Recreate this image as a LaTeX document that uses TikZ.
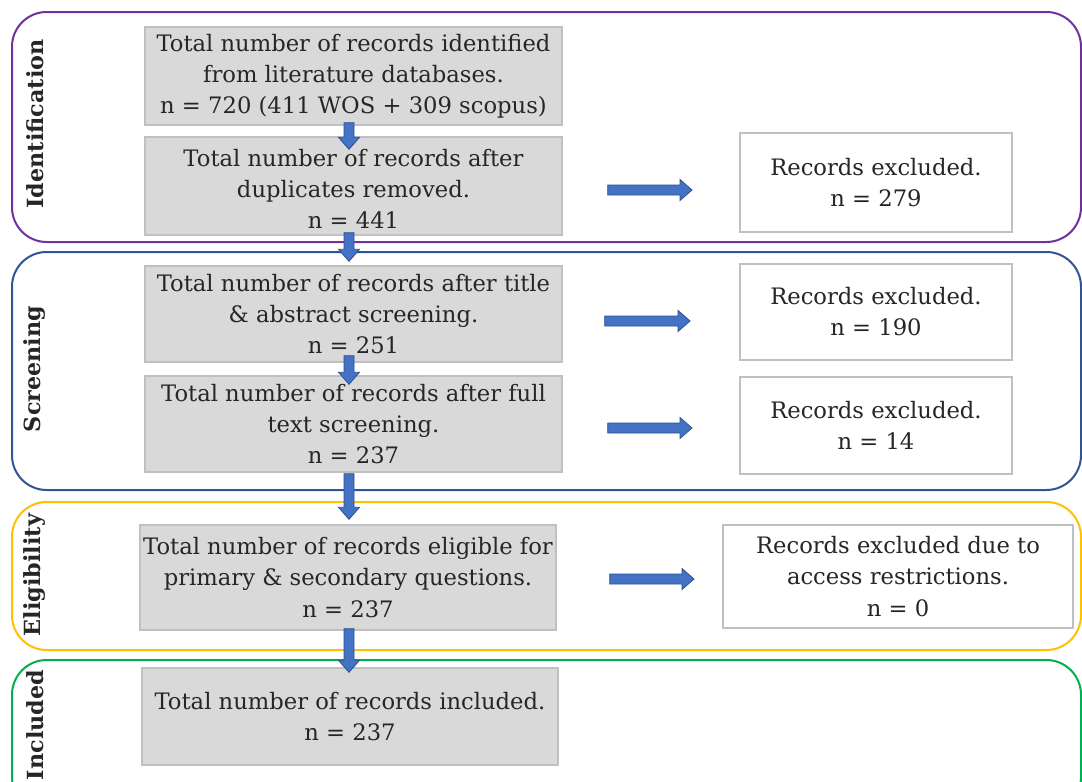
\documentclass[tikz,border=0pt]{standalone}
\usepackage{fontspec}
\setmainfont{DejaVu Serif}
\usetikzlibrary{calc}
\definecolor{gfill}{HTML}{D9D9D9}
\definecolor{gline}{HTML}{C0C0C0}
\definecolor{afill}{HTML}{4472C4}
\definecolor{aline}{HTML}{2F528F}
\definecolor{cpurple}{HTML}{7030A0}
\definecolor{cblue}{HTML}{2F5597}
\definecolor{cyellow}{HTML}{FFC000}
\definecolor{cgreen}{HTML}{00B050}
\begin{document}
\begin{tikzpicture}[x=0.75pt,y=-0.75pt,
  txt/.style={font=\fontsize{17}{23.3}\selectfont, align=center, inner sep=0pt, text=black!85},
  gbox/.style={txt, fill=gfill, draw=gline, line width=1pt},
  wbox/.style={txt, fill=white, draw=gline, line width=1.5pt},
  panel/.style={line width=1.5pt, rounded corners=26pt},
  stage/.style={font=\fontsize{16.7}{20}\selectfont\bfseries, rotate=90, inner sep=0pt, text=black!85},
  rarrow/.style={fill=afill, draw=aline, line width=0.6pt, line join=miter,
    to path={([shift={(0,-5)}]\tikztostart) -- ([shift={(-12,-5)}]\tikztotarget) -- ([shift={(-12,-10.5)}]\tikztotarget) -- (\tikztotarget) -- ([shift={(-12,10.5)}]\tikztotarget) -- ([shift={(-12,5)}]\tikztotarget) -- ([shift={(0,5)}]\tikztostart) -- cycle}},
  darrow/.style={fill=afill, draw=aline, line width=0.6pt, line join=miter,
    to path={([shift={(-5,0)}]\tikztostart) -- ([shift={(-5,-12)}]\tikztotarget) -- ([shift={(-10.5,-12)}]\tikztotarget) -- (\tikztotarget) -- ([shift={(10.5,-12)}]\tikztotarget) -- ([shift={(5,-12)}]\tikztotarget) -- ([shift={(5,0)}]\tikztostart) -- cycle}}
]
\useasboundingbox (0,0) rectangle (1082,782);
\fill[white] (0,0) rectangle (1082,782);

% panels
\draw[panel, draw=cpurple] (12,12) rectangle (1081,242);
\draw[panel, draw=cblue] (12,252) rectangle (1081,490);
\draw[panel, draw=cyellow] (12,502) rectangle (1081,650);
\draw[panel, draw=cgreen] (12,660) rectangle (1081,812);

\node[stage] (s1) at (35,124) {Identification};
\node[stage] (s2) at (35,369) {Screening};
\node[stage] (s3) at (35,575) {Eligibility};
\node[stage] (s4) at (35,725) {Included};

% main boxes
\node[gbox, minimum width=417*0.75pt, minimum height=98*0.75pt] (b1) at (353.5,76)
  {Total number of records identified\\ from literature databases.\\ n = 720 (411 WOS + 309 scopus)};
\node[gbox, minimum width=417*0.75pt, minimum height=98*0.75pt] (b2) at (353.5,186)
  {\\[-6pt]Total number of records after\\ duplicates removed.\\ n = 441};
\node[gbox, minimum width=417*0.75pt, minimum height=96*0.75pt] (b3) at (353.5,314)
  {Total number of records after title\\ \& abstract screening.\\ n = 251};
\node[gbox, minimum width=417*0.75pt, minimum height=96*0.75pt] (b4) at (353.5,424)
  {Total number of records after full\\ text screening.\\ n = 237};
\node[gbox, minimum width=416*0.75pt, minimum height=105*0.75pt] (b5) at (348,577.5)
  {Total number of records eligible for\\ primary \& secondary questions.\\ n = 237};
\node[gbox, minimum width=416*0.75pt, minimum height=97*0.75pt] (b6) at (350,716.5)
  {Total number of records included.\\ n = 237};

% exclusion boxes
\node[wbox, minimum width=272*0.75pt, minimum height=99*0.75pt] (x1) at (876,182.5)
  {Records excluded.\\ n = 279};
\node[wbox, minimum width=272*0.75pt, minimum height=96*0.75pt] (x2) at (876,312)
  {Records excluded.\\ n = 190};
\node[wbox, minimum width=272*0.75pt, minimum height=97*0.75pt] (x3) at (876,425.5)
  {Records excluded.\\ n = 14};
\node[wbox, minimum width=350*0.75pt, minimum height=103*0.75pt] (x4) at (898,576.5)
  {Records excluded due to\\ access restrictions.\\ n = 0};

% down arrows
\coordinate (ax) at (349,0);
\draw[darrow] ($(b1.south -| ax)+(0,-3)$) to ($(b2.north -| ax)+(0,13)$);
\draw[darrow] ($(b2.south -| ax)+(0,-3)$) to ($(b3.north -| ax)+(0,-4)$);
\draw[darrow] ($(b3.south -| ax)+(0,-7)$) to ($(b4.north -| ax)+(0,9)$);
\draw[darrow] ($(b4.south -| ax)+(0,1)$) to ($(b5.north -| ax)+(0,-5)$);
\draw[darrow] ($(b5.south -| ax)+(0,-2)$) to ($(b6.north -| ax)+(0,5)$);

% right arrows
\draw[rarrow] ($(b2.east)+(45,4)$) to ($(x1.west |- b2.east)+(-47,4)$);
\draw[rarrow] ($(b3.east)+(42,7)$) to ($(x2.west |- b3.east)+(-49,7)$);
\draw[rarrow] ($(b4.east)+(45,4)$) to ($(x3.west |- b4.east)+(-47,4)$);
\draw[rarrow] ($(b5.east)+(53,1.5)$) to ($(x4.west |- b5.east)+(-28,1.5)$);
\end{tikzpicture}
\end{document}
